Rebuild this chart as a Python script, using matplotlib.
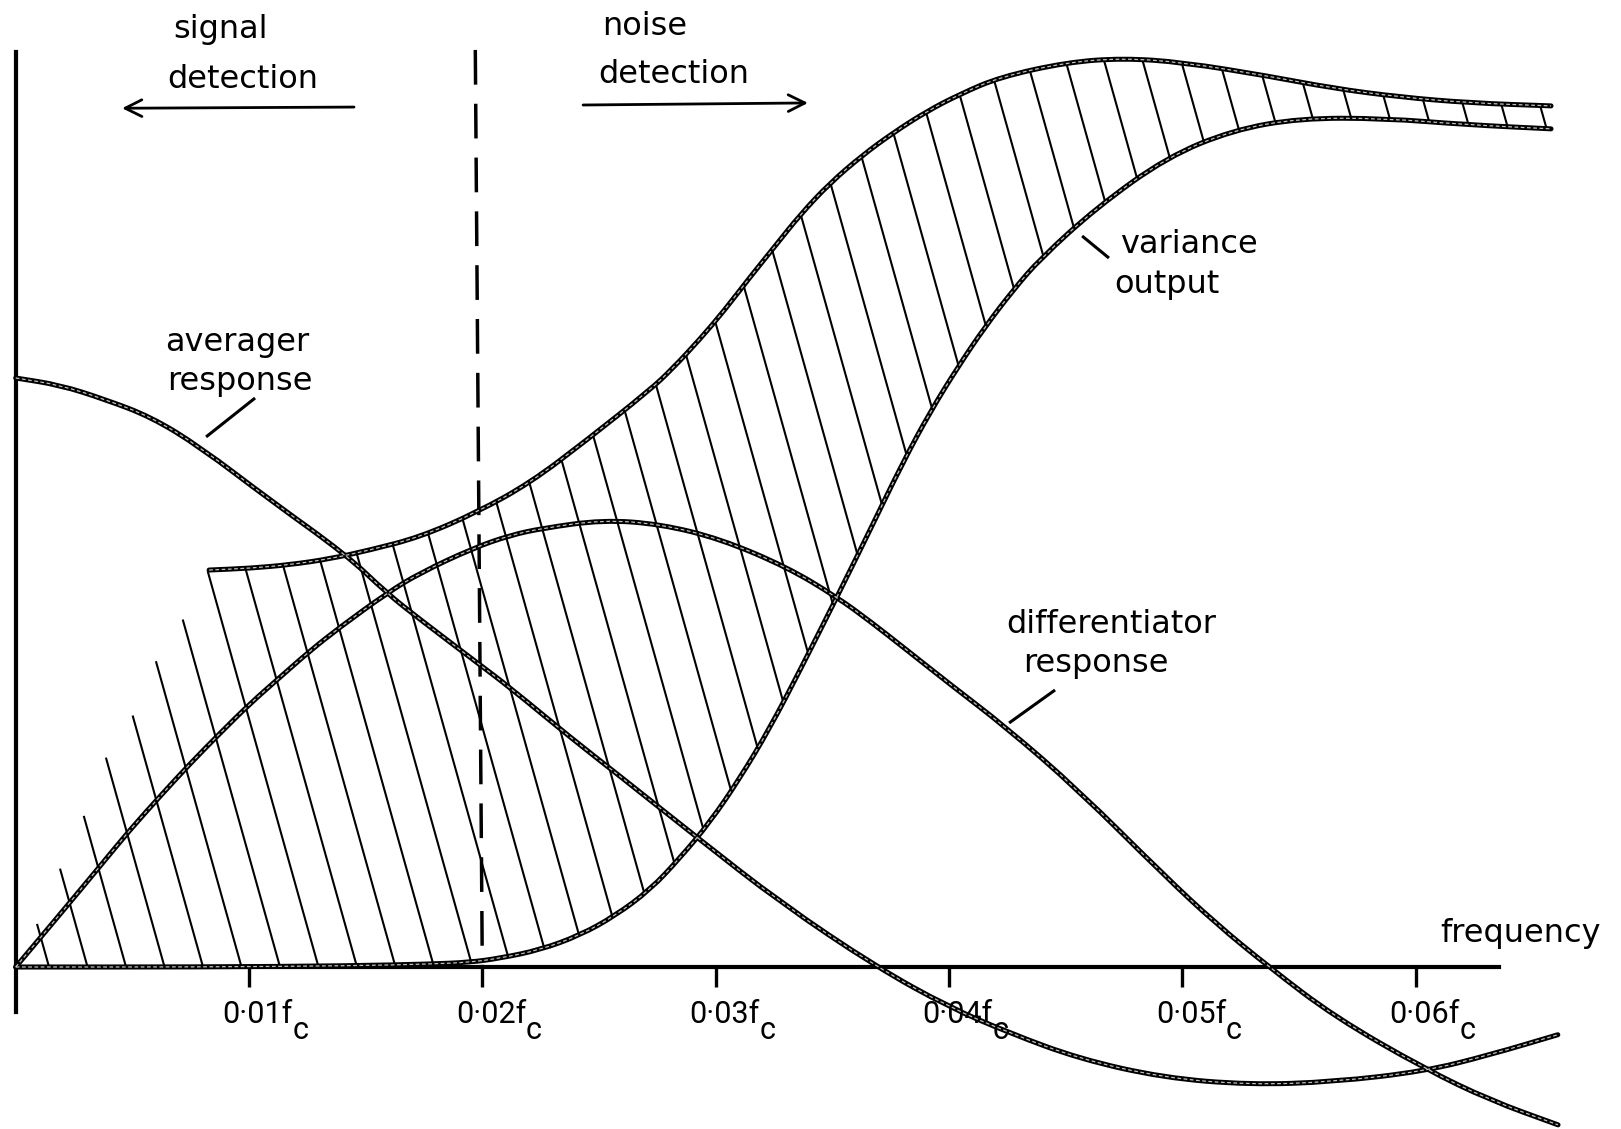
import numpy as np
import matplotlib.pyplot as plt
from matplotlib.path import Path
from matplotlib.patches import PathPatch

plt.rcParams['font.family'] = ['DejaVu Sans']
TICK_FONT = ['Roboto', 'DejaVu Sans']

# frequency axis in units of fc, response normalised to the averager's dc gain

# averager response
avg_f = [0.0, 0.0019, 0.0038, 0.0058, 0.0079, 0.0109, 0.0142, 0.0159, 0.0173, 0.0198,
         0.0212, 0.0238, 0.0259, 0.0293, 0.0328, 0.0369, 0.0400, 0.0426, 0.0456, 0.0492,
         0.0529, 0.0565, 0.0604, 0.0632, 0.0661]
avg_r = [1.000, 0.988, 0.964, 0.934, 0.883, 0.793, 0.699, 0.635, 0.591, 0.516,
         0.474, 0.389, 0.324, 0.217, 0.109, 0.0, -0.068, -0.112, -0.156, -0.188,
         -0.200, -0.195, -0.177, -0.149, -0.115]

# differentiator response
diff_f = [0.0, 0.00104, 0.00233, 0.00361, 0.00490, 0.00619, 0.00747, 0.00876, 0.01004,
          0.01133, 0.01262, 0.01390, 0.01592, 0.01733, 0.01960, 0.02119, 0.02260, 0.02517,
          0.02762, 0.03019, 0.03306, 0.03520, 0.03662, 0.03820, 0.04005, 0.04245, 0.04553,
          0.04922, 0.05141, 0.05372, 0.05655, 0.06041, 0.06319, 0.06611]
diff_r = [0.0, 0.049, 0.110, 0.171, 0.233, 0.290, 0.345, 0.397, 0.447,
          0.492, 0.537, 0.577, 0.635, 0.669, 0.711, 0.733, 0.745, 0.759,
          0.752, 0.727, 0.679, 0.628, 0.587, 0.538, 0.480, 0.407, 0.301,
          0.156, 0.075, 0.0, -0.085, -0.173, -0.226, -0.268]

# variance output band - upper edge
var_hi_f = [0.00829, 0.01004, 0.01176, 0.01347, 0.01519, 0.01733, 0.01977, 0.02205, 0.02449,
            0.02719, 0.02813, 0.02933, 0.03036, 0.03147, 0.03255, 0.03362, 0.03490, 0.03632,
            0.03760, 0.03906, 0.04048, 0.04219, 0.04506, 0.04746, 0.05003, 0.05364, 0.05646,
            0.05934, 0.06234, 0.06581]
var_hi = [0.674, 0.677, 0.683, 0.693, 0.708, 0.730, 0.772, 0.822, 0.895,
          0.980, 1.015, 1.066, 1.114, 1.171, 1.224, 1.277, 1.331, 1.379,
          1.416, 1.453, 1.482, 1.511, 1.536, 1.543, 1.536, 1.513, 1.492,
          1.477, 1.467, 1.462]

# variance output band - lower edge
var_lo_f = [0.0, 0.00790, 0.01433, 0.01776, 0.01947, 0.02076, 0.02247, 0.02419, 0.02569,
            0.02719, 0.02847, 0.02976, 0.03105, 0.03233, 0.03362, 0.03520, 0.03662, 0.03803,
            0.03919, 0.04039, 0.04155, 0.04275, 0.04390, 0.04635, 0.04935, 0.05218, 0.05505,
            0.05861, 0.06221, 0.06581]
var_lo = [0.0, 0.0, 0.002, 0.005, 0.008, 0.015, 0.029, 0.054, 0.087,
          0.131, 0.185, 0.246, 0.321, 0.406, 0.504, 0.628, 0.742, 0.857,
          0.942, 1.019, 1.087, 1.149, 1.202, 1.290, 1.375, 1.421, 1.441,
          1.441, 1.430, 1.423]

# shading limit below the start of the upper edge (no line drawn here)
edge_f = [0.0, 0.00091, 0.00194, 0.00293, 0.00391, 0.00507, 0.00606, 0.00730, 0.00829]
edge_v = [0.0, 0.070, 0.168, 0.255, 0.357, 0.428, 0.521, 0.596, 0.674]

tick_f = [0.01, 0.02, 0.03, 0.04, 0.05, 0.06]
tick_labels = ['0·01f', '0·02f', '0·03f', '0·04f', '0·05f', '0·06f']

fig = plt.figure(figsize=(16.21, 11.29), dpi=100)
ax = fig.add_axes([0, 0, 1, 1])
ax.set_xlim(-0.000673, 0.068808)
ax.set_ylim(-0.27504, 1.64177)

for side in ('top', 'right'):
    ax.spines[side].set_visible(False)
ax.spines['left'].set_position(('data', 0))
ax.spines['left'].set_bounds(-0.076, 1.553)
ax.spines['bottom'].set_position(('data', 0))
ax.spines['bottom'].set_bounds(0, 0.0636)
for side in ('left', 'bottom'):
    ax.spines[side].set_linewidth(3.0)
    ax.spines[side].set_zorder(2)
ax.set_yticks([])
ax.set_xticks(tick_f)
ax.tick_params(axis='x', direction='out', length=14.5, width=2.4, labelbottom=False)
ax.patch.set_visible(False)

# tick labels with a full-size dropped subscript c
for f, lab in zip(tick_f, tick_labels):
    ax.annotate(lab, xy=(f, 0), xytext=(-19, -40), textcoords='offset points',
                ha='left', va='baseline', fontsize=22, family=TICK_FONT)
    ax.annotate('c', xy=(f, 0), xytext=(31.5, -52), textcoords='offset points',
                ha='left', va='baseline', fontsize=22, family=TICK_FONT)


def smooth(f, v):
    # quadratic bezier chain through the midpoints, read points as controls
    p = np.column_stack([f, v])
    mids = (p[:-1] + p[1:]) / 2
    verts = [p[0], mids[0]]
    codes = [Path.MOVETO, Path.LINETO]
    for i in range(1, len(p) - 1):
        verts += [p[i], mids[i]]
        codes += [Path.CURVE3, Path.CURVE3]
    verts.append(p[-1])
    codes.append(Path.LINETO)
    return Path(verts, codes)


def ink(path):
    ax.add_patch(PathPatch(path, fill=False, color='black', lw=3.6,
                           capstyle='round', joinstyle='round', zorder=3))
    ax.add_patch(PathPatch(path, fill=False, color='white', lw=0.9,
                           ls=(0, (3, 2)), alpha=0.75, zorder=4))


avg_path = smooth(avg_f, avg_r)
diff_path = smooth(diff_f, diff_r)
hi_path = smooth(var_hi_f, var_hi)
lo_path = smooth(var_lo_f, var_lo)

# hatching: parallel strokes leaning left, spaced evenly along the axis
sx, sy = np.diff(ax.transData.transform([(0, 0), (1, 1)]), axis=0)[0]
lean = 0.28 * sy / sx


def cross(c, pts):
    fs, vs = pts[:, 0], pts[:, 1]
    g = fs + lean * vs - c
    idx = np.nonzero(np.diff(np.sign(g)))[0]
    if len(idx) == 0:
        return None
    i = idx[0]
    t = g[i] / (g[i] - g[i + 1])
    return fs[i] + t * (fs[i + 1] - fs[i]), vs[i] + t * (vs[i + 1] - vs[i])


lo_pts = lo_path.to_polygons(closed_only=False)[0]
hi_pts = hi_path.to_polygons(closed_only=False)[0]
top_pts = np.vstack([np.column_stack([edge_f, edge_v])[:-1], hi_pts])
for c in np.arange(0.00143, 0.08, 0.00165):
    lo = cross(c, lo_pts)
    hi = cross(c, top_pts)
    if lo is None or hi is None:
        continue
    ax.plot([lo[0], hi[0]], [lo[1], hi[1]], color='black', lw=1.5, zorder=1)

for path in (avg_path, diff_path, hi_path, lo_path):
    ink(path)

# boundary between signal and noise detection
ax.plot([0.0197, 0.02], [1.557, 0.0], color='black', lw=2.5,
        dashes=(10, 5.5), zorder=2)

# labels
txt = dict(fontsize=23, ha='left', va='baseline')
ax.text(0.00674, 1.577, 'signal', **txt)
ax.text(0.00648, 1.492, 'detection', **txt)
ax.text(0.02513, 1.582, 'noise', **txt)
ax.text(0.02496, 1.501, 'detection', **txt)
ax.text(0.00640, 1.046, 'averager', **txt)
ax.text(0.00649, 0.980, 'response', **txt)
ax.text(0.04733, 1.212, 'variance', **txt)
ax.text(0.04708, 1.144, 'output', **txt)
ax.text(0.04244, 0.567, 'differentiator', **txt)
ax.text(0.04318, 0.501, 'response', **txt)
ax.text(0.06105, 0.0424, 'frequency', **txt)

# leader lines
lead = dict(color='black', lw=2.2, solid_capstyle='butt')
ax.plot([0.01026, 0.00816], [0.966, 0.900], **lead)
ax.plot([0.04455, 0.04258], [0.4703, 0.4143], **lead)
ax.plot([0.04571, 0.04686], [1.2411, 1.2037], **lead)

arrow = dict(arrowstyle='->,head_length=0.6,head_width=0.3', lw=2.0,
             color='black', mutation_scale=20, shrinkA=0, shrinkB=0)
ax.annotate('', xy=(0.00456, 1.458), xytext=(0.01450, 1.460), arrowprops=arrow)
ax.annotate('', xy=(0.03396, 1.467), xytext=(0.02432, 1.4635), arrowprops=arrow)

fig.savefig('out.png', dpi=100, facecolor='white')
